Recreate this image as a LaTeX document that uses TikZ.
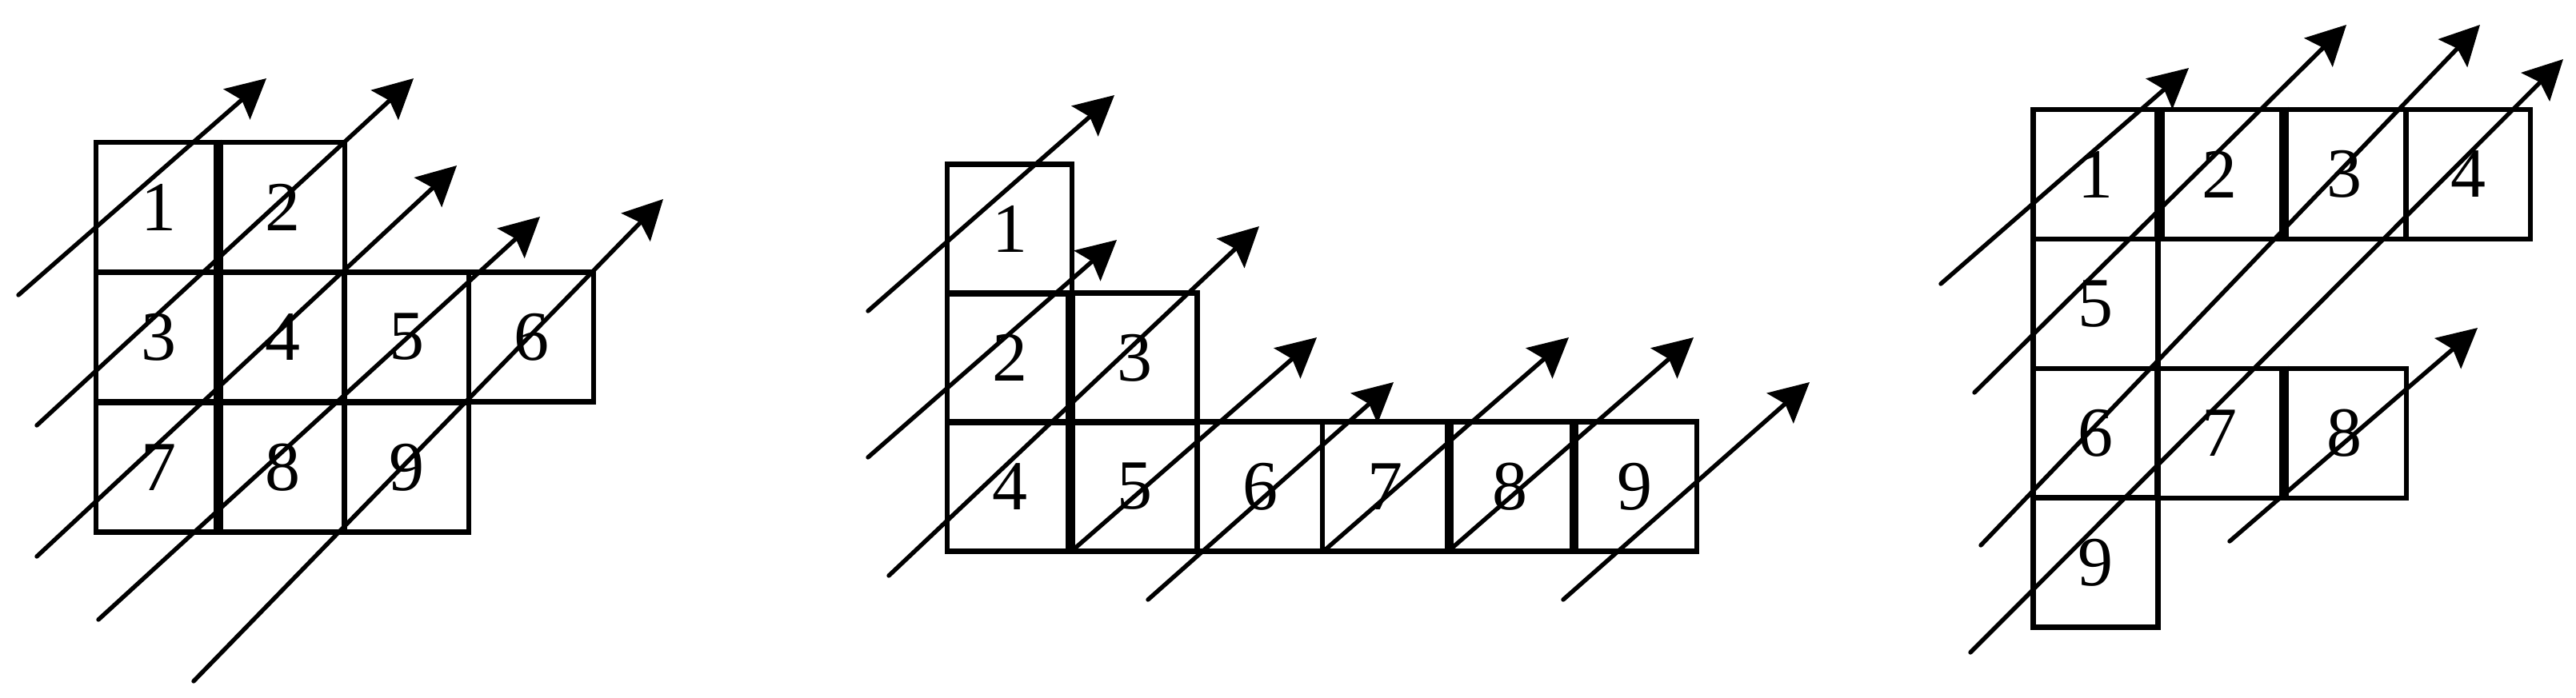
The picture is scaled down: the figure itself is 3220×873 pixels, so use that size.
\documentclass[tikz,border=0pt]{standalone}
\usepackage{fontspec}
\setmainfont{Liberation Serif}
\usetikzlibrary{arrows.meta}
\begin{document}
\begin{tikzpicture}[x=0.5pt,y=-0.5pt,
  cell/.style={draw, line width=3.3pt, minimum width=78pt, minimum height=81pt,
    inner sep=0pt, font=\fontsize{44}{44}\selectfont},
  thickedge/.style={line width=5pt},
  arr/.style={line width=2.7pt, line cap=round,
    -{Stealth[length=24.5pt,width=25pt,inset=4pt]}}]
\useasboundingbox (0,0) rectangle (3220,873);
% ---------- left figure ----------
\node[cell] (L1) at (198,259) {1};
\node[cell] (L2) at (353,259) {2};
\node[cell] (L3) at (198,421.5) {3};
\node[cell] (L4) at (353,421.5) {4};
\node[cell] (L5) at (508,421.5) {5};
\node[cell] (L6) at (664,421.5) {6};
\node[cell] (L7) at (198,584.5) {7};
\node[cell] (L8) at (353,584.5) {8};
\node[cell] (L9) at (508,584.5) {9};
\draw[thickedge] (L1.north west -| L2.west) -- (L8.south west);
\coordinate (a1s) at (23,369);  \coordinate (a1e) at (333,98);
\coordinate (a2s) at (46,532);  \coordinate (a2e) at (517,98);
\coordinate (a3s) at (46,696);  \coordinate (a3e) at (571,207);
\coordinate (a4s) at (123,775); \coordinate (a4e) at (675,271);
\coordinate (a5s) at (242,852); \coordinate (a5e) at (829,249);
\draw[arr] (a1s) -- (a1e);
\draw[arr] (a2s) -- (a2e);
\draw[arr] (a3s) -- (a3e);
\draw[arr] (a4s) -- (a4e);
\draw[arr] (a5s) -- (a5e);
% ---------- middle figure ----------
\node[cell] (M1) at (1262,286.5) {1};
\node[cell] (M2) at (1262,447.5) {2};
\node[cell] (M3) at (1418.5,447.5) {3};
\node[cell] (M4) at (1262,608.5) {4};
\node[cell] (M5) at (1418.5,608.5) {5};
\node[cell] (M6) at (1575,608.5) {6};
\node[cell] (M7) at (1731,608.5) {7};
\node[cell] (M8) at (1887,608.5) {8};
\node[cell] (M9) at (2043,608.5) {9};
\draw[thickedge] (M3.north west) -- (M5.south west);
\draw[thickedge] (M7.north east) -- (M7.south east);
\draw[thickedge] (M8.north east) -- (M8.south east);
\coordinate (b1s) at (1085,389);  \coordinate (b1e) at (1393,119);
\coordinate (b2s) at (1085,572);  \coordinate (b2e) at (1396,300);
\coordinate (b3s) at (1111,720);  \coordinate (b3e) at (1574,283);
\coordinate (b4s) at (1341,688);  \coordinate (b4e) at (1646,422);
\coordinate (b5s) at (1435,750);  \coordinate (b5e) at (1742,478);
\coordinate (b6s) at (1656,688);  \coordinate (b6e) at (1961,422);
\coordinate (b7s) at (1812,688);  \coordinate (b7e) at (2117,422);
\coordinate (b8s) at (1954,750);  \coordinate (b8e) at (2262,478);
\draw[arr] (b1s) -- (b1e);
\draw[arr] (b2s) -- (b2e);
\draw[arr] (b3s) -- (b3e);
\draw[arr] (b4s) -- (b4e);
\draw[arr] (b5s) -- (b5e);
\draw[arr] (b6s) -- (b6e);
\draw[arr] (b7s) -- (b7e);
\draw[arr] (b8s) -- (b8e);
% ---------- right figure ----------
\node[cell] (R1) at (2619.5,218) {1};
\node[cell] (R2) at (2774.5,218) {2};
\node[cell] (R3) at (2930,218) {3};
\node[cell] (R4) at (3085,218) {4};
\node[cell] (R5) at (2619.5,380) {5};
\node[cell] (R6) at (2619.5,542) {6};
\node[cell] (R7) at (2774.5,542) {7};
\node[cell] (R8) at (2930,542) {8};
\node[cell] (R9) at (2619.5,703.5) {9};
\draw[thickedge] (R1.north east) -- (R1.south east);
\draw[thickedge] (R2.north east) -- (R2.south east);
\draw[thickedge] (R7.north east) -- (R7.south east);
\coordinate (c1s) at (2426,355);  \coordinate (c1e) at (2736,85);
\coordinate (c2s) at (2468,491);  \coordinate (c2e) at (2933,31);
\coordinate (c3s) at (2476,682);  \coordinate (c3e) at (3100,31);
\coordinate (c4s) at (2463,816);  \coordinate (c4e) at (3204,74);
\coordinate (c5s) at (2787,677);  \coordinate (c5e) at (3097,410);
\draw[arr] (c1s) -- (c1e);
\draw[arr] (c2s) -- (c2e);
\draw[arr] (c3s) -- (c3e);
\draw[arr] (c4s) -- (c4e);
\draw[arr] (c5s) -- (c5e);
\end{tikzpicture}
\end{document}
